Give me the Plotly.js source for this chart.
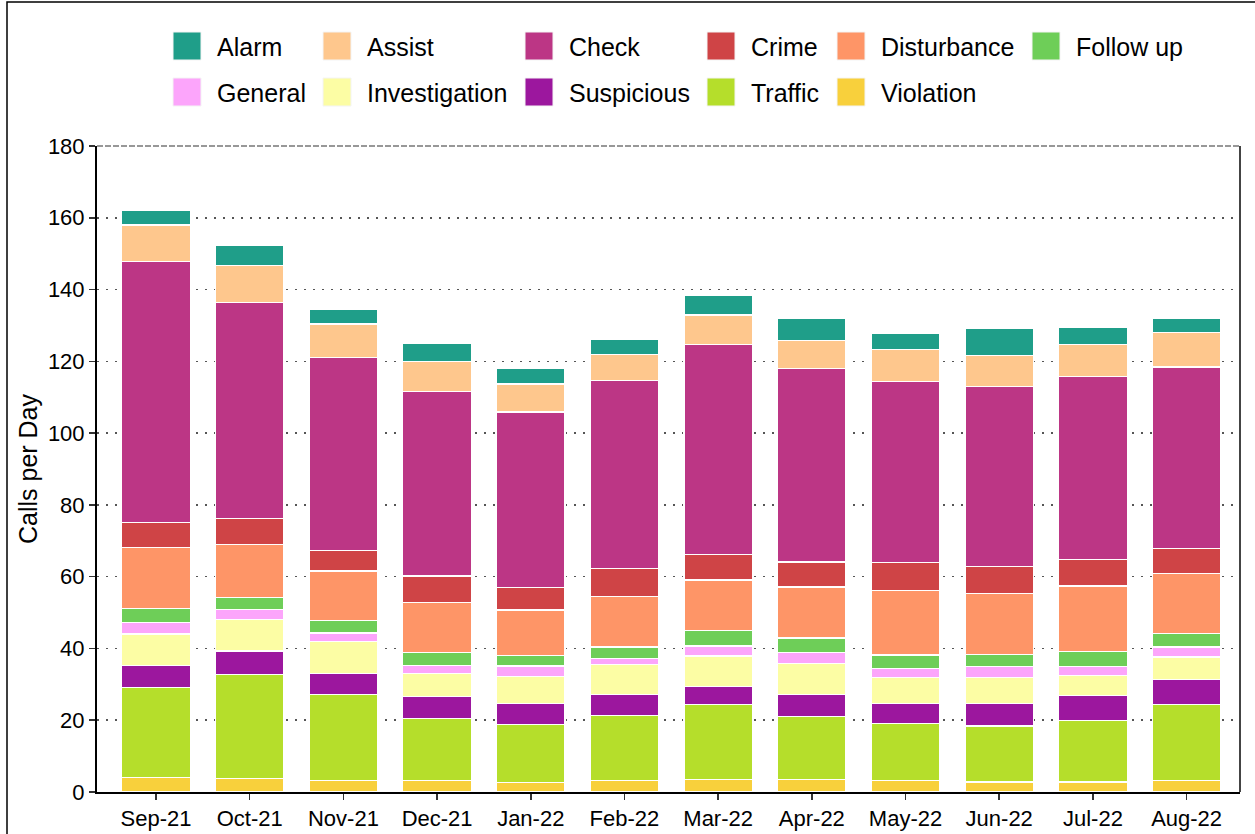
<!DOCTYPE html>
<html><head><meta charset="utf-8">
<script src="https://cdn.plot.ly/plotly-3.0.1.min.js"></script>
<style>html,body{margin:0;padding:0;background:#fff}#chart{width:1255px;height:834px}</style>
</head><body><div id="chart"></div>
<script>
// Months (x categories)
const months = ['Sep-21','Oct-21','Nov-21','Dec-21','Jan-22','Feb-22','Mar-22','Apr-22','May-22','Jun-22','Jul-22','Aug-22'];

// Series values (calls per day), bottom of stack first
const violation     = [4.1, 3.8, 3.2, 3.3, 2.6, 3.3, 3.4, 3.5, 3.1, 2.8, 2.8, 3.3];
const traffic       = [25.0, 29.0, 24.0, 17.1, 16.1, 18.1, 21.0, 17.6, 15.9, 15.6, 17.2, 21.1];
const suspicious    = [6.2, 6.5, 5.8, 6.1, 6.0, 5.8, 5.0, 6.0, 5.6, 6.2, 7.0, 7.0];
const investigation = [8.7, 8.7, 9.0, 6.6, 7.5, 8.3, 8.5, 8.8, 7.3, 7.3, 5.4, 6.2];
const general       = [3.3, 2.8, 2.3, 2.1, 2.9, 1.8, 2.8, 3.0, 2.5, 3.0, 2.5, 2.8];
const followUp      = [3.8, 3.3, 3.4, 3.6, 2.9, 3.1, 4.4, 4.0, 3.8, 3.5, 4.3, 3.8];
const disturbance   = [17.0, 14.8, 13.9, 14.1, 12.7, 14.1, 14.0, 14.2, 18.0, 16.9, 18.2, 16.7];
const crime         = [6.9, 7.2, 5.6, 7.3, 6.3, 7.8, 7.0, 7.0, 7.8, 7.5, 7.4, 6.9];
const check         = [72.8, 60.3, 53.9, 51.5, 48.9, 52.4, 58.6, 53.9, 50.3, 50.1, 50.9, 50.6];
const assist        = [10.2, 10.2, 9.3, 8.2, 7.8, 7.3, 8.2, 7.9, 8.9, 8.8, 9.0, 9.7];
const alarm         = [4.1, 5.6, 4.2, 5.2, 4.2, 4.1, 5.6, 6.1, 4.7, 7.6, 4.8, 4.0];

// Stacking order (bottom to top)
const stackNames = ['Violation','Traffic','Suspicious','Investigation','General','Follow up','Disturbance','Crime','Check','Assist','Alarm'];
const stackValues = [violation, traffic, suspicious, investigation, general, followUp, disturbance, crime, check, assist, alarm];

// Legend order (rows of 6)
const legendNames = ['Alarm','Assist','Check','Crime','Disturbance','Follow up','General','Investigation','Suspicious','Traffic','Violation'];

const colors = {
  'Alarm':'#1f9e89','Assist':'#fec78d','Check':'#bc3685','Crime':'#cf4446',
  'Disturbance':'#fe9567','Follow up':'#6ece58','General':'#fca5fb',
  'Investigation':'#fcfda4','Suspicious':'#9c179e','Traffic':'#b5de2b','Violation':'#f8d03c'
};

const FONT = 'Liberation Sans, Arial, Helvetica, sans-serif';

const traces = stackNames.map((name, i) => ({
  type: 'bar',
  name: name,
  x: months,
  y: stackValues[i],
  width: 0.73,
  marker: {color: colors[name], line: {color: '#ffffff', width: 1.2}},
  showlegend: false,
  hovertemplate: name + ': %{y}<extra></extra>'
}));

// Pixel geometry of the plot area
const L = 97, R = 15, T = 146, B = 42, W = 1255, H = 834;
const pw = W - L - R, ph = H - T - B;
const px2x = p => (p - L) / pw;
const py2y = p => (H - B - p) / ph;

// Custom legend (large square swatches, aligned columns)
const colX = [173, 323, 525, 707, 837, 1032];
const rowY = [46, 92];
const sw = 28;
const shapes = [];
const annotations = [];
legendNames.forEach((name, i) => {
  const c = i % 6, r = Math.floor(i / 6);
  const x0 = colX[c], yc = rowY[r];
  shapes.push({type:'rect', xref:'paper', yref:'paper',
    x0: px2x(x0), x1: px2x(x0 + sw), y0: py2y(yc + sw/2), y1: py2y(yc - sw/2),
    fillcolor: colors[name], line: {color: '#f4f4f4', width: 1}});
  annotations.push({xref:'paper', yref:'paper', x: px2x(x0 + 42), y: py2y(yc + 1),
    xanchor:'left', yanchor:'middle', showarrow:false, text: name,
    font: {family: FONT, size: 25, color: '#000'}});
});

// Panel border pieces and outer frame
shapes.push({type:'line', xref:'paper', yref:'paper', x0:0, x1:1, y0:1, y1:1,
  line:{color:'#777', width:1.5, dash:'6px,2px'}});
shapes.push({type:'line', xref:'paper', yref:'paper', x0:1, x1:1, y0:0, y1:1,
  line:{color:'#444', width:2}});
shapes.push({type:'rect', xref:'paper', yref:'paper',
  x0: px2x(7), x1: px2x(1265), y0: py2y(845), y1: py2y(2),
  line:{color:'#000', width:1.5}, fillcolor:'rgba(0,0,0,0)', layer:'below'});

const layout = {
  width: W, height: H,
  margin: {l: L, r: R, t: T, b: B, pad: 0},
  paper_bgcolor: '#ffffff', plot_bgcolor: '#ffffff',
  barmode: 'stack',
  showlegend: false,
  font: {family: FONT, color: '#000'},
  xaxis: {
    type: 'category', range: [-0.63, 11.57],
    showline: true, linecolor: '#000', linewidth: 2,
    ticks: 'outside', ticklen: 6, tickwidth: 1.5, tickcolor: '#333',
    tickfont: {family: FONT, size: 22, color: '#000'},
    showgrid: false, zeroline: false, fixedrange: true
  },
  yaxis: {
    range: [0, 180], dtick: 20, tick0: 0,
    showline: true, linecolor: '#000', linewidth: 2,
    ticks: 'outside', ticklen: 6, tickwidth: 1.5, tickcolor: '#333',
    tickfont: {family: FONT, size: 22, color: '#000'},
    showgrid: true, gridcolor: '#555', gridwidth: 1.5, griddash: '2px,7px',
    zeroline: false, fixedrange: true,
    title: {text: 'Calls per Day', font: {family: FONT, size: 25, color: '#000'}, standoff: 3}
  },
  shapes: shapes,
  annotations: annotations
};

Plotly.newPlot('chart', traces, layout, {displayModeBar: false, staticPlot: true});
</script>
</body></html>
